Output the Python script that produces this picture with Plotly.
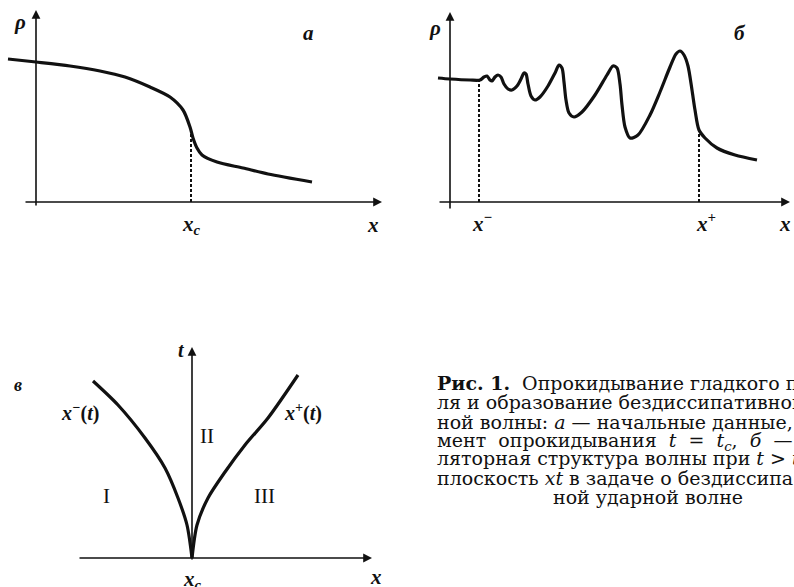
import plotly.graph_objects as go

W, H = 794, 587

# ---- panel a: initial profile rho(x) ----
a_x = [-0.56, 0.00, 0.68, 1.28, 1.78, 2.28, 2.68, 2.94, 3.08, 3.14, 3.22, 3.32, 3.62, 4.14, 4.64, 5.52]
a_rho = [2.86, 2.80, 2.72, 2.62, 2.50, 2.30, 2.10, 1.84, 1.50, 1.28, 1.08, 0.94, 0.80, 0.68, 0.56, 0.40]
a_xc = 3.10
a_rho_xc = 1.44

# ---- panel б: oscillatory structure ----
b_x = [-0.24, 0.00, 0.40, 0.60, 0.68, 0.74, 0.80, 0.84, 0.90, 0.96, 1.02, 1.08, 1.16, 1.24,
       1.34, 1.42, 1.48, 1.52, 1.56, 1.62, 1.70, 1.80, 1.96, 2.10, 2.18, 2.24, 2.28, 2.32,
       2.38, 2.48, 2.64, 2.90, 3.14, 3.26, 3.34, 3.40, 3.44, 3.50, 3.60, 3.76, 4.00, 4.20,
       4.40, 4.52, 4.60, 4.68, 4.76, 4.84, 4.90, 4.98, 5.10, 5.34, 5.70, 6.14]
b_rho = [2.48, 2.46, 2.44, 2.44, 2.50, 2.52, 2.44, 2.42, 2.50, 2.54, 2.50, 2.36, 2.26, 2.24,
         2.32, 2.46, 2.58, 2.56, 2.36, 2.12, 2.04, 2.10, 2.32, 2.58, 2.74, 2.68, 2.40, 2.04,
         1.78, 1.70, 1.80, 2.14, 2.54, 2.72, 2.68, 2.36, 1.94, 1.50, 1.28, 1.34, 1.74, 2.20,
         2.70, 2.96, 3.02, 2.94, 2.72, 2.24, 1.84, 1.44, 1.28, 1.08, 0.94, 0.84]
b_xminus, b_rho_minus = 0.58, 2.44
b_xplus, b_rho_plus = 4.98, 1.42

# ---- panel в: xt-plane, boundaries x-(t), x+(t) ----
left_x = [-1.98, -1.48, -0.94, -0.54, -0.28, -0.10, 0.00]
left_t = [3.54, 3.06, 2.40, 1.80, 1.20, 0.66, 0.00]
right_x = [0.00, 0.10, 0.32, 0.66, 1.06, 1.52, 2.12]
right_t = [0.00, 0.66, 1.20, 1.72, 2.26, 2.80, 3.66]

NB = "\u00a0"
caption_lines = [
    "<b>Рис. 1.</b>  Опрокидывание гладкого про",
    "ля и образование бездиссипативной",
    "ной волны: <i>а</i> — начальные данные,",
    f"мент{NB} опрокидывания{NB} <i>t</i>{NB} ={NB} <i>t<sub>c</sub></i>,{NB} <i>б</i>{NB} —{NB} ос",
    "ляторная структура волны при <i>t</i> &gt; <i>t<sub>c</sub></i>",
    "плоскость <i>xt</i> в задаче о бездиссипа",
]
caption_last = "ной ударной волне"

SERIF = "Liberation Serif, Tinos, Times New Roman, DejaVu Serif, serif"
CAPTION_FONT = "DejaVu Serif, Liberation Serif, serif"
BLACK = "#111111"


def px2paper(px, py):
    return px / W, 1 - py / H


fig = go.Figure()

# panel boxes in pixels and axis ranges (1 unit = 50 px)
panels = {
    "": dict(box=(0, 397, 0, 250), xr=(-0.72, 7.22), yr=(-0.96, 4.04)),
    "2": dict(box=(400, 794, 0, 250), xr=(-1.0, 6.88), yr=(-0.96, 4.04)),
    "3": dict(box=(0, 400, 330, 587), xr=(-3.84, 4.16), yr=(-0.58, 4.56)),
}
layout_axes = {}
for k, p in panels.items():
    x0, x1, y0, y1 = p["box"]
    ax_common = dict(visible=False, showgrid=False, zeroline=False, fixedrange=True)
    layout_axes["xaxis" + k] = dict(domain=[x0 / W, x1 / W], range=list(p["xr"]),
                                    anchor="y" + k, **ax_common)
    layout_axes["yaxis" + k] = dict(domain=[1 - y1 / H, 1 - y0 / H], range=list(p["yr"]),
                                    anchor="x" + k, **ax_common)

curve = dict(color=BLACK, width=3.2, shape="spline", smoothing=0.8)
dash = dict(color=BLACK, width=2, dash="3px,2px")

# panel a
fig.add_trace(go.Scatter(x=a_x, y=a_rho, mode="lines", line=curve, xaxis="x", yaxis="y"))
fig.add_trace(go.Scatter(x=[a_xc, a_xc], y=[0, a_rho_xc], mode="lines", line=dash,
                         xaxis="x", yaxis="y"))
# panel б
fig.add_trace(go.Scatter(x=b_x, y=b_rho, mode="lines", line=curve, xaxis="x2", yaxis="y2"))
fig.add_trace(go.Scatter(x=[b_xminus, b_xminus], y=[0, b_rho_minus], mode="lines", line=dash,
                         xaxis="x2", yaxis="y2"))
fig.add_trace(go.Scatter(x=[b_xplus, b_xplus], y=[0, b_rho_plus], mode="lines", line=dash,
                         xaxis="x2", yaxis="y2"))
# panel в
fig.add_trace(go.Scatter(x=left_x, y=left_t, mode="lines", line=curve, xaxis="x3", yaxis="y3"))
fig.add_trace(go.Scatter(x=right_x, y=right_t, mode="lines", line=curve, xaxis="x3", yaxis="y3"))

annotations = []


def arrow(k, x0, y0, x1, y1):
    annotations.append(dict(
        xref="x" + k, yref="y" + k, axref="x" + k, ayref="y" + k,
        x=x1, y=y1, ax=x0, ay=y0, text="", showarrow=True,
        arrowhead=2, arrowsize=1.1, arrowwidth=1.6, arrowcolor=BLACK,
    ))


def label(k, x, y, text, size=19, xanchor="center"):
    annotations.append(dict(
        xref="x" + k, yref="y" + k, x=x, y=y, text=text, showarrow=False,
        font=dict(family=SERIF, size=size, color=BLACK), xanchor=xanchor, yanchor="middle",
    ))


# coordinate axes with arrows
arrow("", -0.24, 0, 6.92, 0)
arrow("", 0, -0.10, 0, 3.84)
arrow("2", -0.24, 0, 6.80, 0)
arrow("2", 0, -0.16, 0, 3.80)
arrow("3", -2.28, 0, 3.60, 0)
arrow("3", 0, -0.06, 0, 4.22)

# panel a labels
label("", -0.32, 3.60, "<b><i>ρ</i></b>", size=21)
label("", 5.44, 3.38, "<b><i>а</i></b>", size=21)
label("", a_xc, -0.46, "<b><i>x<sub>c</sub></i></b>", size=21)
label("", 6.74, -0.46, "<b><i>x</i></b>", size=21)
# panel б labels
label("2", -0.30, 3.48, "<b><i>ρ</i></b>", size=21)
label("2", 5.80, 3.38, "<b><i>б</i></b>", size=21)
label("2", b_xminus + 0.06, -0.40, "<b><i>x<sup>−</sup></i></b>", size=21)
label("2", b_xplus + 0.14, -0.40, "<b><i>x<sup>+</sup></i></b>", size=21)
label("2", 6.70, -0.44, "<b><i>x</i></b>", size=21)
# panel в labels
label("3", -0.22, 4.16, "<b><i>t</i></b>", size=20)
label("3", -3.48, 3.46, "<b><i>в</i></b>", size=18)
label("3", -2.24, 2.92, "<b><i>x<sup>−</sup></i>(<i>t</i>)</b>", size=20)
label("3", 2.22, 2.92, "<b><i>x<sup>+</sup></i>(<i>t</i>)</b>", size=20)
label("3", 0.30, 2.44, "II", size=21)
label("3", -1.72, 1.24, "I", size=21)
label("3", 1.44, 1.24, "III", size=21)
label("3", 0.00, -0.44, "<b><i>x<sub>c</sub></i></b>", size=21)
label("3", 3.68, -0.38, "<b><i>x</i></b>", size=21)

# caption
cap_y = [383, 402, 422, 441, 459, 478]
for txt, py in zip(caption_lines, cap_y):
    xp, yp = px2paper(435, py)
    annotations.append(dict(xref="paper", yref="paper", x=xp, y=yp, text=txt, showarrow=False,
                            xanchor="left", yanchor="middle",
                            font=dict(family=CAPTION_FONT, size=19, color=BLACK)))
xp, yp = px2paper(648, 497)
annotations.append(dict(xref="paper", yref="paper", x=xp, y=yp, text=caption_last, showarrow=False,
                        xanchor="center", yanchor="middle",
                        font=dict(family=CAPTION_FONT, size=19, color=BLACK)))

fig.update_layout(
    width=W, height=H, margin=dict(l=0, r=0, t=0, b=0),
    paper_bgcolor="white", plot_bgcolor="rgba(0,0,0,0)",
    showlegend=False, annotations=annotations, **layout_axes,
)

fig.write_html("out.html", config={"displayModeBar": False})
